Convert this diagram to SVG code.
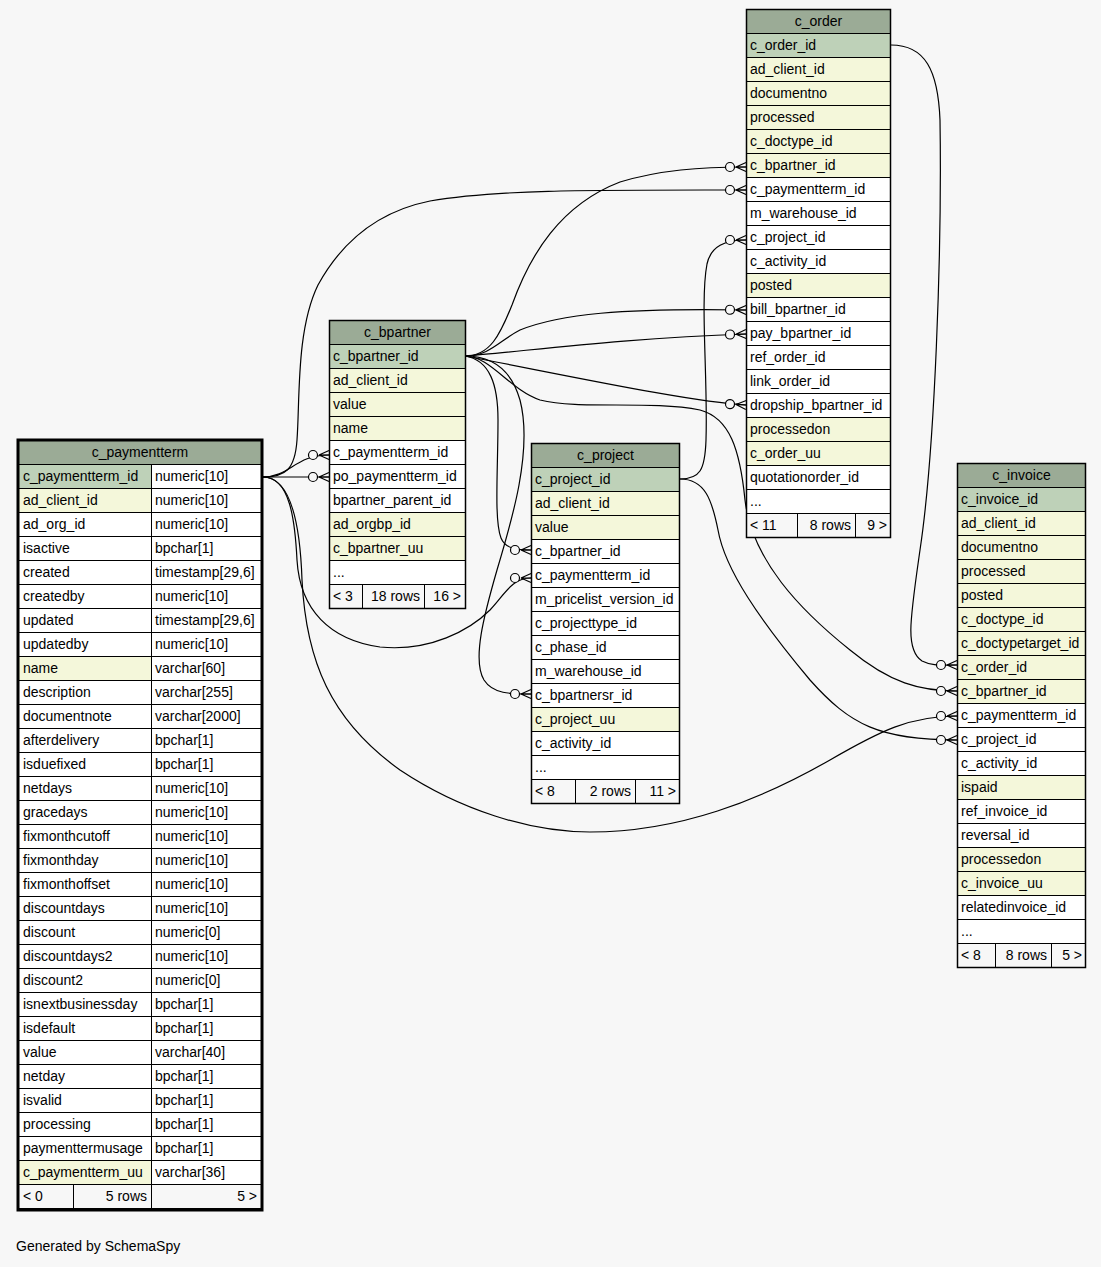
<svg xmlns="http://www.w3.org/2000/svg" width="1101" height="1267" viewBox="0 0 1101 1267">
<style>
text{font-family:"Liberation Sans",Arial,sans-serif;font-size:14px;fill:#000;transform:translateY(-1px)}
.h{fill:#9bab96;stroke:#000;stroke-width:1}
.pk{fill:#bed1b8;stroke:#000;stroke-width:1}
.fk{fill:#f4f7da;stroke:#000;stroke-width:1}
.w{fill:#ffffff;stroke:#000;stroke-width:1}
.ft{fill:#f7f7f7;stroke:#000;stroke-width:1}
.ob{fill:none;stroke:#000;stroke-width:1.5}
.obf{fill:none;stroke:#000;stroke-width:3}
.c{text-anchor:middle}
.r{text-anchor:end}
.e{fill:none;stroke:#000;stroke-width:1.2;marker-end:url(#crow)}
</style>
<defs>
<marker id="crow" markerUnits="userSpaceOnUse" viewBox="-22 -7 23 14" refX="0" refY="0" markerWidth="23" markerHeight="14" orient="auto" overflow="visible">
<path d="M-10,0 L0,-4.5 M-10,0 L0,0 M-10,0 L0,4.5" fill="none" stroke="#000" stroke-width="1.2"/>
<circle cx="-16" cy="0" r="4.5" fill="#f7f7f7" stroke="#000" stroke-width="1.2"/>
</marker>
</defs>
<rect width="1101" height="1267" fill="#f7f7f7"/>

<g id="connectors">
<path class="e" d="M465,356 C490,356 500,335 512,305 C530,255 560,205 620,182 C660,170 700,167 746,167"/>
<path class="e" d="M263,477 C285,477 295,470 297,440 C300,400 296,330 318,285 C340,245 375,212 430,201 C500,189 600,190 746,190"/>
<path class="e" d="M680,479 C700,479 705,470 706,440 C708,380 700,300 707,264 C711,246 725,240 746,240"/>
<path class="e" d="M465,356 C490,356 500,340 520,330 C560,314 620,308 746,310"/>
<path class="e" d="M465,356 C520,352 620,338 746,334"/>
<path class="e" d="M465,356 C560,374 690,402 746,405"/>
<path class="e" d="M263,477 C290,477 295,455 329,455"/>
<path class="e" d="M263,477 C290,477 300,477 329,477"/>
<path class="e" d="M465,356 C490,360 498,385 498,420 C498,470 494,520 501,538 C505,548 515,550 531,550"/>
<path class="e" d="M263,477 C290,477 295,520 297,560 C300,610 330,640 380,647 C430,652 470,630 490,610 C505,594 512,578 531,578"/>
<path class="e" d="M465,356 C495,356 512,372 520,400 C533,450 512,520 497,570 C484,615 472,660 484,680 C493,694 510,694 531,694"/>
<path class="e" d="M891,45 C925,45 938,70 940,120 C942,250 935,450 920,550 C910,620 905,650 922,661 C932,666 940,665 957,665"/>
<path class="e" d="M465,356 C490,356 510,390 540,400 C580,410 650,400 700,410 C730,418 740,450 745,500 C752,560 800,610 850,650 C890,683 920,691 957,691"/>
<path class="e" d="M263,477 C290,477 300,520 302,580 C306,660 330,720 400,770 C460,810 530,832 590,832 C680,832 760,800 830,760 C880,731 910,716 957,716"/>
<path class="e" d="M680,479 C705,479 712,500 718,530 C725,570 760,620 810,680 C850,725 880,740 957,740"/>
</g>

<g id="c_order">
<rect class="h" x="746.5" y="9.5" width="144" height="24"/><text class="c" x="818.5" y="26.5">c_order</text>
<rect class="pk" x="746.5" y="33.5" width="144" height="24"/><text x="750" y="50.5">c_order_id</text>
<rect class="fk" x="746.5" y="57.5" width="144" height="24"/><text x="750" y="74.5">ad_client_id</text>
<rect class="fk" x="746.5" y="81.5" width="144" height="24"/><text x="750" y="98.5">documentno</text>
<rect class="fk" x="746.5" y="105.5" width="144" height="24"/><text x="750" y="122.5">processed</text>
<rect class="fk" x="746.5" y="129.5" width="144" height="24"/><text x="750" y="146.5">c_doctype_id</text>
<rect class="fk" x="746.5" y="153.5" width="144" height="24"/><text x="750" y="170.5">c_bpartner_id</text>
<rect class="w" x="746.5" y="177.5" width="144" height="24"/><text x="750" y="194.5">c_paymentterm_id</text>
<rect class="w" x="746.5" y="201.5" width="144" height="24"/><text x="750" y="218.5">m_warehouse_id</text>
<rect class="w" x="746.5" y="225.5" width="144" height="24"/><text x="750" y="242.5">c_project_id</text>
<rect class="w" x="746.5" y="249.5" width="144" height="24"/><text x="750" y="266.5">c_activity_id</text>
<rect class="fk" x="746.5" y="273.5" width="144" height="24"/><text x="750" y="290.5">posted</text>
<rect class="w" x="746.5" y="297.5" width="144" height="24"/><text x="750" y="314.5">bill_bpartner_id</text>
<rect class="w" x="746.5" y="321.5" width="144" height="24"/><text x="750" y="338.5">pay_bpartner_id</text>
<rect class="w" x="746.5" y="345.5" width="144" height="24"/><text x="750" y="362.5">ref_order_id</text>
<rect class="w" x="746.5" y="369.5" width="144" height="24"/><text x="750" y="386.5">link_order_id</text>
<rect class="w" x="746.5" y="393.5" width="144" height="24"/><text x="750" y="410.5">dropship_bpartner_id</text>
<rect class="fk" x="746.5" y="417.5" width="144" height="24"/><text x="750" y="434.5">processedon</text>
<rect class="fk" x="746.5" y="441.5" width="144" height="24"/><text x="750" y="458.5">c_order_uu</text>
<rect class="w" x="746.5" y="465.5" width="144" height="24"/><text x="750" y="482.5">quotationorder_id</text>
<rect class="w" x="746.5" y="489.5" width="144" height="24"/><text x="750" y="506.5">...</text>
<rect class="ft" x="746.5" y="513.5" width="51" height="24"/><rect class="ft" x="797.5" y="513.5" width="58" height="24"/><rect class="ft" x="855.5" y="513.5" width="35" height="24"/>
<text x="750" y="530.5">&lt; 11</text><text class="r" x="851" y="530.5">8 rows</text><text class="r" x="887" y="530.5">9 &gt;</text>
<rect class="ob" x="746.5" y="9.5" width="144" height="528"/>
</g>

<g id="c_bpartner">
<rect class="h" x="329.5" y="320.5" width="136" height="24"/><text class="c" x="397.5" y="337.5">c_bpartner</text>
<rect class="pk" x="329.5" y="344.5" width="136" height="24"/><text x="333" y="361.5">c_bpartner_id</text>
<rect class="fk" x="329.5" y="368.5" width="136" height="24"/><text x="333" y="385.5">ad_client_id</text>
<rect class="fk" x="329.5" y="392.5" width="136" height="24"/><text x="333" y="409.5">value</text>
<rect class="fk" x="329.5" y="416.5" width="136" height="24"/><text x="333" y="433.5">name</text>
<rect class="w" x="329.5" y="440.5" width="136" height="24"/><text x="333" y="457.5">c_paymentterm_id</text>
<rect class="w" x="329.5" y="464.5" width="136" height="24"/><text x="333" y="481.5">po_paymentterm_id</text>
<rect class="w" x="329.5" y="488.5" width="136" height="24"/><text x="333" y="505.5">bpartner_parent_id</text>
<rect class="fk" x="329.5" y="512.5" width="136" height="24"/><text x="333" y="529.5">ad_orgbp_id</text>
<rect class="fk" x="329.5" y="536.5" width="136" height="24"/><text x="333" y="553.5">c_bpartner_uu</text>
<rect class="w" x="329.5" y="560.5" width="136" height="24"/><text x="333" y="577.5">...</text>
<rect class="ft" x="329.5" y="584.5" width="33" height="24"/><rect class="ft" x="362.5" y="584.5" width="62" height="24"/><rect class="ft" x="424.5" y="584.5" width="41" height="24"/>
<text x="333" y="601.5">&lt; 3</text><text class="r" x="420" y="601.5">18 rows</text><text class="r" x="461" y="601.5">16 &gt;</text>
<rect class="ob" x="329.5" y="320.5" width="136" height="288"/>
</g>

<g id="c_paymentterm">
<rect class="h" x="17.5" y="440.5" width="245" height="24"/><text class="c" x="140" y="457.5">c_paymentterm</text>
<rect class="pk" x="17.5" y="464.5" width="134" height="24"/><rect class="w" x="151.5" y="464.5" width="111" height="24"/><text x="23" y="481.5">c_paymentterm_id</text><text x="155" y="481.5">numeric[10]</text>
<rect class="fk" x="17.5" y="488.5" width="134" height="24"/><rect class="w" x="151.5" y="488.5" width="111" height="24"/><text x="23" y="505.5">ad_client_id</text><text x="155" y="505.5">numeric[10]</text>
<rect class="w" x="17.5" y="512.5" width="134" height="24"/><rect class="w" x="151.5" y="512.5" width="111" height="24"/><text x="23" y="529.5">ad_org_id</text><text x="155" y="529.5">numeric[10]</text>
<rect class="w" x="17.5" y="536.5" width="134" height="24"/><rect class="w" x="151.5" y="536.5" width="111" height="24"/><text x="23" y="553.5">isactive</text><text x="155" y="553.5">bpchar[1]</text>
<rect class="w" x="17.5" y="560.5" width="134" height="24"/><rect class="w" x="151.5" y="560.5" width="111" height="24"/><text x="23" y="577.5">created</text><text x="155" y="577.5">timestamp[29,6]</text>
<rect class="w" x="17.5" y="584.5" width="134" height="24"/><rect class="w" x="151.5" y="584.5" width="111" height="24"/><text x="23" y="601.5">createdby</text><text x="155" y="601.5">numeric[10]</text>
<rect class="w" x="17.5" y="608.5" width="134" height="24"/><rect class="w" x="151.5" y="608.5" width="111" height="24"/><text x="23" y="625.5">updated</text><text x="155" y="625.5">timestamp[29,6]</text>
<rect class="w" x="17.5" y="632.5" width="134" height="24"/><rect class="w" x="151.5" y="632.5" width="111" height="24"/><text x="23" y="649.5">updatedby</text><text x="155" y="649.5">numeric[10]</text>
<rect class="fk" x="17.5" y="656.5" width="134" height="24"/><rect class="w" x="151.5" y="656.5" width="111" height="24"/><text x="23" y="673.5">name</text><text x="155" y="673.5">varchar[60]</text>
<rect class="w" x="17.5" y="680.5" width="134" height="24"/><rect class="w" x="151.5" y="680.5" width="111" height="24"/><text x="23" y="697.5">description</text><text x="155" y="697.5">varchar[255]</text>
<rect class="w" x="17.5" y="704.5" width="134" height="24"/><rect class="w" x="151.5" y="704.5" width="111" height="24"/><text x="23" y="721.5">documentnote</text><text x="155" y="721.5">varchar[2000]</text>
<rect class="w" x="17.5" y="728.5" width="134" height="24"/><rect class="w" x="151.5" y="728.5" width="111" height="24"/><text x="23" y="745.5">afterdelivery</text><text x="155" y="745.5">bpchar[1]</text>
<rect class="w" x="17.5" y="752.5" width="134" height="24"/><rect class="w" x="151.5" y="752.5" width="111" height="24"/><text x="23" y="769.5">isduefixed</text><text x="155" y="769.5">bpchar[1]</text>
<rect class="w" x="17.5" y="776.5" width="134" height="24"/><rect class="w" x="151.5" y="776.5" width="111" height="24"/><text x="23" y="793.5">netdays</text><text x="155" y="793.5">numeric[10]</text>
<rect class="w" x="17.5" y="800.5" width="134" height="24"/><rect class="w" x="151.5" y="800.5" width="111" height="24"/><text x="23" y="817.5">gracedays</text><text x="155" y="817.5">numeric[10]</text>
<rect class="w" x="17.5" y="824.5" width="134" height="24"/><rect class="w" x="151.5" y="824.5" width="111" height="24"/><text x="23" y="841.5">fixmonthcutoff</text><text x="155" y="841.5">numeric[10]</text>
<rect class="w" x="17.5" y="848.5" width="134" height="24"/><rect class="w" x="151.5" y="848.5" width="111" height="24"/><text x="23" y="865.5">fixmonthday</text><text x="155" y="865.5">numeric[10]</text>
<rect class="w" x="17.5" y="872.5" width="134" height="24"/><rect class="w" x="151.5" y="872.5" width="111" height="24"/><text x="23" y="889.5">fixmonthoffset</text><text x="155" y="889.5">numeric[10]</text>
<rect class="w" x="17.5" y="896.5" width="134" height="24"/><rect class="w" x="151.5" y="896.5" width="111" height="24"/><text x="23" y="913.5">discountdays</text><text x="155" y="913.5">numeric[10]</text>
<rect class="w" x="17.5" y="920.5" width="134" height="24"/><rect class="w" x="151.5" y="920.5" width="111" height="24"/><text x="23" y="937.5">discount</text><text x="155" y="937.5">numeric[0]</text>
<rect class="w" x="17.5" y="944.5" width="134" height="24"/><rect class="w" x="151.5" y="944.5" width="111" height="24"/><text x="23" y="961.5">discountdays2</text><text x="155" y="961.5">numeric[10]</text>
<rect class="w" x="17.5" y="968.5" width="134" height="24"/><rect class="w" x="151.5" y="968.5" width="111" height="24"/><text x="23" y="985.5">discount2</text><text x="155" y="985.5">numeric[0]</text>
<rect class="w" x="17.5" y="992.5" width="134" height="24"/><rect class="w" x="151.5" y="992.5" width="111" height="24"/><text x="23" y="1009.5">isnextbusinessday</text><text x="155" y="1009.5">bpchar[1]</text>
<rect class="w" x="17.5" y="1016.5" width="134" height="24"/><rect class="w" x="151.5" y="1016.5" width="111" height="24"/><text x="23" y="1033.5">isdefault</text><text x="155" y="1033.5">bpchar[1]</text>
<rect class="w" x="17.5" y="1040.5" width="134" height="24"/><rect class="w" x="151.5" y="1040.5" width="111" height="24"/><text x="23" y="1057.5">value</text><text x="155" y="1057.5">varchar[40]</text>
<rect class="w" x="17.5" y="1064.5" width="134" height="24"/><rect class="w" x="151.5" y="1064.5" width="111" height="24"/><text x="23" y="1081.5">netday</text><text x="155" y="1081.5">bpchar[1]</text>
<rect class="w" x="17.5" y="1088.5" width="134" height="24"/><rect class="w" x="151.5" y="1088.5" width="111" height="24"/><text x="23" y="1105.5">isvalid</text><text x="155" y="1105.5">bpchar[1]</text>
<rect class="w" x="17.5" y="1112.5" width="134" height="24"/><rect class="w" x="151.5" y="1112.5" width="111" height="24"/><text x="23" y="1129.5">processing</text><text x="155" y="1129.5">bpchar[1]</text>
<rect class="w" x="17.5" y="1136.5" width="134" height="24"/><rect class="w" x="151.5" y="1136.5" width="111" height="24"/><text x="23" y="1153.5">paymenttermusage</text><text x="155" y="1153.5">bpchar[1]</text>
<rect class="fk" x="17.5" y="1160.5" width="134" height="24"/><rect class="w" x="151.5" y="1160.5" width="111" height="24"/><text x="23" y="1177.5">c_paymentterm_uu</text><text x="155" y="1177.5">varchar[36]</text>
<rect class="ft" x="17.5" y="1184.5" width="56" height="24"/><rect class="ft" x="73.5" y="1184.5" width="78" height="24"/><rect class="ft" x="151.5" y="1184.5" width="111" height="24"/>
<text x="23" y="1201.5">&lt; 0</text><text class="r" x="147" y="1201.5">5 rows</text><text class="r" x="257" y="1201.5">5 &gt;</text>
<rect class="obf" x="18" y="440" width="244" height="770"/>
</g>

<g id="c_project">
<rect class="h" x="531.5" y="443.5" width="148" height="24"/><text class="c" x="605.5" y="460.5">c_project</text>
<rect class="pk" x="531.5" y="467.5" width="148" height="24"/><text x="535" y="484.5">c_project_id</text>
<rect class="fk" x="531.5" y="491.5" width="148" height="24"/><text x="535" y="508.5">ad_client_id</text>
<rect class="fk" x="531.5" y="515.5" width="148" height="24"/><text x="535" y="532.5">value</text>
<rect class="w" x="531.5" y="539.5" width="148" height="24"/><text x="535" y="556.5">c_bpartner_id</text>
<rect class="w" x="531.5" y="563.5" width="148" height="24"/><text x="535" y="580.5">c_paymentterm_id</text>
<rect class="w" x="531.5" y="587.5" width="148" height="24"/><text x="535" y="604.5">m_pricelist_version_id</text>
<rect class="w" x="531.5" y="611.5" width="148" height="24"/><text x="535" y="628.5">c_projecttype_id</text>
<rect class="w" x="531.5" y="635.5" width="148" height="24"/><text x="535" y="652.5">c_phase_id</text>
<rect class="w" x="531.5" y="659.5" width="148" height="24"/><text x="535" y="676.5">m_warehouse_id</text>
<rect class="w" x="531.5" y="683.5" width="148" height="24"/><text x="535" y="700.5">c_bpartnersr_id</text>
<rect class="fk" x="531.5" y="707.5" width="148" height="24"/><text x="535" y="724.5">c_project_uu</text>
<rect class="w" x="531.5" y="731.5" width="148" height="24"/><text x="535" y="748.5">c_activity_id</text>
<rect class="w" x="531.5" y="755.5" width="148" height="24"/><text x="535" y="772.5">...</text>
<rect class="ft" x="531.5" y="779.5" width="44" height="24"/><rect class="ft" x="575.5" y="779.5" width="60" height="24"/><rect class="ft" x="635.5" y="779.5" width="44" height="24"/>
<text x="535" y="796.5">&lt; 8</text><text class="r" x="631" y="796.5">2 rows</text><text class="r" x="676" y="796.5">11 &gt;</text>
<rect class="ob" x="531.5" y="443.5" width="148" height="360"/>
</g>

<g id="c_invoice">
<rect class="h" x="957.5" y="463.5" width="128" height="24"/><text class="c" x="1021.5" y="480.5">c_invoice</text>
<rect class="pk" x="957.5" y="487.5" width="128" height="24"/><text x="961" y="504.5">c_invoice_id</text>
<rect class="fk" x="957.5" y="511.5" width="128" height="24"/><text x="961" y="528.5">ad_client_id</text>
<rect class="fk" x="957.5" y="535.5" width="128" height="24"/><text x="961" y="552.5">documentno</text>
<rect class="fk" x="957.5" y="559.5" width="128" height="24"/><text x="961" y="576.5">processed</text>
<rect class="fk" x="957.5" y="583.5" width="128" height="24"/><text x="961" y="600.5">posted</text>
<rect class="fk" x="957.5" y="607.5" width="128" height="24"/><text x="961" y="624.5">c_doctype_id</text>
<rect class="fk" x="957.5" y="631.5" width="128" height="24"/><text x="961" y="648.5">c_doctypetarget_id</text>
<rect class="fk" x="957.5" y="655.5" width="128" height="24"/><text x="961" y="672.5">c_order_id</text>
<rect class="fk" x="957.5" y="679.5" width="128" height="24"/><text x="961" y="696.5">c_bpartner_id</text>
<rect class="w" x="957.5" y="703.5" width="128" height="24"/><text x="961" y="720.5">c_paymentterm_id</text>
<rect class="w" x="957.5" y="727.5" width="128" height="24"/><text x="961" y="744.5">c_project_id</text>
<rect class="w" x="957.5" y="751.5" width="128" height="24"/><text x="961" y="768.5">c_activity_id</text>
<rect class="fk" x="957.5" y="775.5" width="128" height="24"/><text x="961" y="792.5">ispaid</text>
<rect class="w" x="957.5" y="799.5" width="128" height="24"/><text x="961" y="816.5">ref_invoice_id</text>
<rect class="w" x="957.5" y="823.5" width="128" height="24"/><text x="961" y="840.5">reversal_id</text>
<rect class="fk" x="957.5" y="847.5" width="128" height="24"/><text x="961" y="864.5">processedon</text>
<rect class="fk" x="957.5" y="871.5" width="128" height="24"/><text x="961" y="888.5">c_invoice_uu</text>
<rect class="w" x="957.5" y="895.5" width="128" height="24"/><text x="961" y="912.5">relatedinvoice_id</text>
<rect class="w" x="957.5" y="919.5" width="128" height="24"/><text x="961" y="936.5">...</text>
<rect class="ft" x="957.5" y="943.5" width="38" height="24"/><rect class="ft" x="995.5" y="943.5" width="56" height="24"/><rect class="ft" x="1051.5" y="943.5" width="34" height="24"/>
<text x="961" y="960.5">&lt; 8</text><text class="r" x="1047" y="960.5">8 rows</text><text class="r" x="1082" y="960.5">5 &gt;</text>
<rect class="ob" x="957.5" y="463.5" width="128" height="504"/>
</g>

<text x="16" y="1252">Generated by SchemaSpy</text>
</svg>
